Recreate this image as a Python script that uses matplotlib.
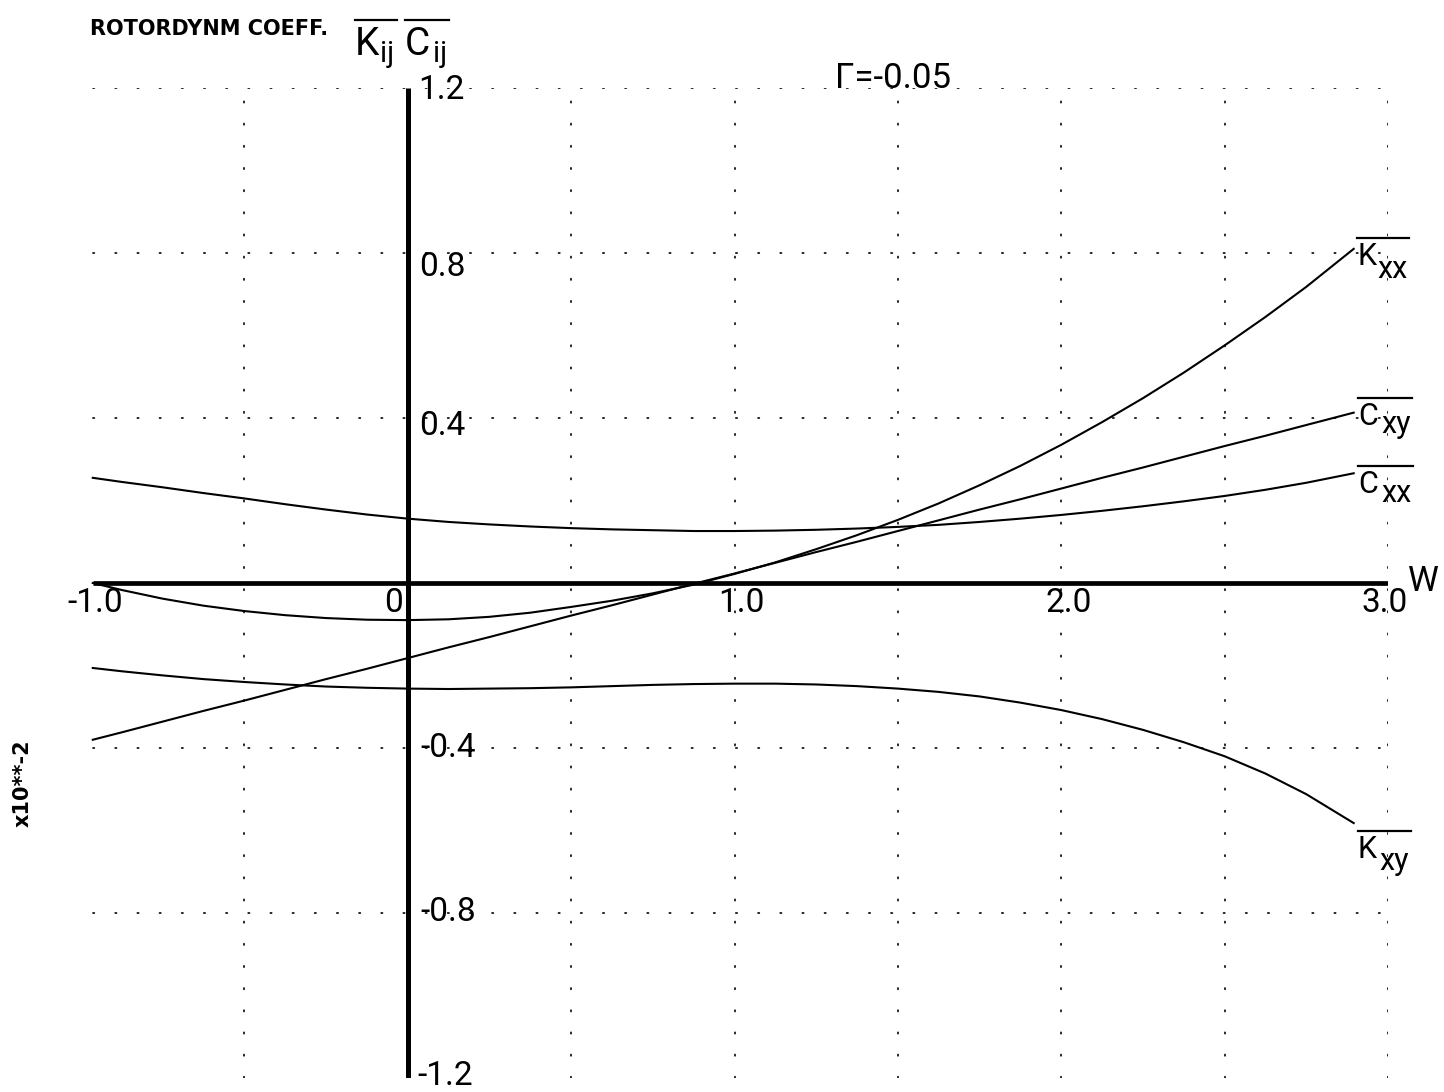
import matplotlib
matplotlib.use("Agg")
import matplotlib.pyplot as plt
from matplotlib.lines import Line2D
from matplotlib.transforms import IdentityTransform
from matplotlib import font_manager

# ---------------- data ----------------
w = [-0.964, -0.875, -0.75, -0.625, -0.5, -0.375, -0.25, -0.125, 0.0,
     0.125, 0.25, 0.375, 0.5, 0.625, 0.75, 0.875, 1.0, 1.125, 1.25, 1.375,
     1.5, 1.625, 1.75, 1.875, 2.0, 2.125, 2.25, 2.375, 2.5, 2.625, 2.75, 2.895]
kxx = [0.000, -0.017, -0.038, -0.055, -0.068, -0.078, -0.085, -0.089, -0.090,
       -0.088, -0.082, -0.072, -0.058, -0.043, -0.025, -0.004, 0.022, 0.050,
       0.082, 0.116, 0.153, 0.193, 0.237, 0.284, 0.335, 0.390, 0.448, 0.510,
       0.576, 0.645, 0.718, 0.810]
cxy = [-0.380, -0.362, -0.336, -0.310, -0.285, -0.259, -0.233, -0.208, -0.182,
       -0.156, -0.131, -0.105, -0.079, -0.054, -0.028, -0.002, 0.023, 0.049,
       0.075, 0.100, 0.126, 0.152, 0.178, 0.203, 0.229, 0.255, 0.280, 0.306,
       0.332, 0.357, 0.383, 0.413]
cxx = [0.255, 0.245, 0.232, 0.218, 0.205, 0.191, 0.178, 0.166, 0.156,
       0.148, 0.142, 0.137, 0.133, 0.130, 0.128, 0.126, 0.126, 0.127,
       0.129, 0.132, 0.136, 0.141, 0.148, 0.156, 0.165, 0.175, 0.186, 0.198,
       0.211, 0.226, 0.243, 0.266]
kxy = [-0.206, -0.214, -0.224, -0.233, -0.240, -0.246, -0.251, -0.254, -0.256,
       -0.257, -0.256, -0.255, -0.253, -0.250, -0.247, -0.245, -0.244, -0.244,
       -0.246, -0.250, -0.256, -0.264, -0.275, -0.290, -0.308, -0.330, -0.356,
       -0.386, -0.420, -0.462, -0.512, -0.582]

xticks = [-1.0, 0.0, 1.0, 2.0, 3.0]
xticklabels = ["-1.0", "0", "1.0", "2.0", "3.0"]
yticks = [1.2, 0.8, 0.4, -0.4, -0.8, -1.2]
yticklabels = ["1.2", "0.8", "0.4", "-0.4", "-0.8", "-1.2"]
vgrid = [-0.5, 0.5, 1.0, 1.5, 2.0, 2.5, 3.0]
hgrid = [1.2, 0.8, 0.4, -0.4, -0.8]

# ---------------- style ----------------
names = {f.name for f in font_manager.fontManager.ttflist}
FONT = "Roboto" if "Roboto" in names else "DejaVu Sans"
plt.rcParams["font.family"] = [FONT, "DejaVu Sans"]

W, H, DPI = 1444, 1092, 100
fig = plt.figure(figsize=(W / DPI, H / DPI), dpi=DPI)
fig.patch.set_facecolor("white")
# x: -1 -> 81 px, 3 -> 1388 px ; y: 1.2 -> 88 px, -1.2 -> 1078 px
ax = fig.add_axes([81 / W, 1 - 1078 / H, 1307 / W, 990 / H])
ax.set_xlim(-1.0, 3.0)
ax.set_ylim(-1.2, 1.2)
ax.axis("off")

dot = dict(color="black", lw=1.2, linestyle=(0, (0.8, 12.5)), dash_capstyle="round")
for gx in vgrid:
    ax.plot([gx, gx], [-1.2, 1.2], **dot)
for gy in hgrid:
    ax.plot([w[0], 3.0], [gy, gy], **dot)

# main axes
ax.plot([w[0], 3.0], [0, 0], color="black", lw=3.4, solid_capstyle="butt")
ax.plot([0, 0], [-1.2, 1.2], color="black", lw=3.6, solid_capstyle="butt")

# curves
for ys in (kxx, cxy, cxx, kxy):
    ax.plot(w, ys, color="black", lw=1.5, solid_joinstyle="round")


def px_off(xd, yd, dx, dy):
    """data point -> display pixel with pixel offset (dy positive = downwards)"""
    X, Y = ax.transData.transform((xd, yd))
    return X + dx, Y - dy


TFS = 24
ylab_dx = [10, 11, 11, 13, 13, 10]
ylab_dy = [2, 14, 8, 0, -1, -2]
for v, s, dx, dy in zip(yticks, yticklabels, ylab_dx, ylab_dy):
    X, Y = px_off(0, v, dx, dy)
    fig.text(X / W, Y / H, s, fontsize=TFS, ha="left", va="center")

xlab_dx = [14, -14, 7, 7, -3]
for v, s, dx in zip(xticks, xticklabels, xlab_dx):
    X, Y = px_off(v, 0, dx, 20)
    fig.text(X / W, Y / H, s, fontsize=TFS, ha="center", va="center")

fig.text(1408 / W, 1 - 591 / H, "W", fontsize=25, ha="left", va="baseline")

renderer = fig.canvas.get_renderer()


def over_label(xp, yp, main, sub, fs, sfs, sub_dx, sub_dy, gap=5, ext=2):
    """xp, yp: pixel (from top-left) of main text left/baseline"""
    Y = H - yp
    t = fig.text(xp / W, Y / H, main, fontsize=fs, ha="left", va="baseline")
    bb = t.get_window_extent(renderer)
    s = fig.text((bb.x1 + sub_dx) / W, (Y - sub_dy) / H, sub, fontsize=sfs,
                 ha="left", va="baseline")
    sb = s.get_window_extent(renderer)
    ytop = Y + fs * DPI / 72 * 0.71 + gap
    fig.add_artist(Line2D([bb.x0, sb.x1 + ext], [ytop, ytop], color="black",
                          lw=1.6, transform=IdentityTransform()))


over_label(1357, 265, "K", "xx", 22, 22, 1, 13)
over_label(1358, 425, "C", "xy", 22, 22, 3, 8)
over_label(1358, 493, "C", "xx", 22, 22, 3, 9)
over_label(1358, 858, "K", "xy", 22, 22, 2, 12)
over_label(355, 55, "K", "ij", 28, 21, 1, 7, gap=7)
over_label(405, 55, "C", "ij", 28, 21, 3, 7, gap=7)

fig.text(90 / W, 1 - 35 / H, "ROTORDYNM COEFF.", fontsize=15, fontweight="bold",
         family="DejaVu Sans", ha="left", va="baseline")
fig.text(835 / W, 1 - 88 / H, "\u0393=-0.05", fontsize=25, ha="left", va="baseline")
fig.text(23 / W, 1 - 783 / H, "x10**-2", fontsize=15, fontweight="bold",
         family="DejaVu Sans", rotation=90, ha="center", va="center")

fig.savefig("out.png", dpi=DPI, facecolor="white")
